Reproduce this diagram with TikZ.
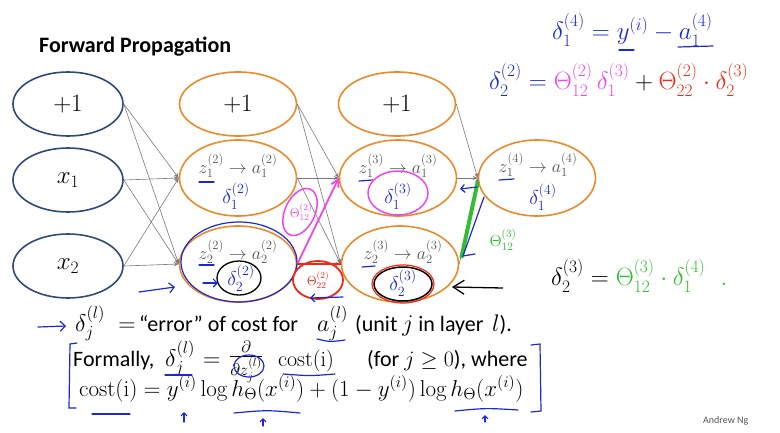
\RequirePackage{fix-cm}
\documentclass[tikz,border=0pt]{standalone}
\usepackage{amsmath,amssymb}
\usepackage{fontspec}
\setsansfont{Carlito}
\usetikzlibrary{shapes.geometric,arrows.meta,calc}
\definecolor{navy}{HTML}{2F4A78}
\definecolor{orng}{HTML}{ED8928}
\definecolor{hwblue}{HTML}{1E28D2}
\definecolor{mag}{HTML}{F046E6}
\definecolor{hwred}{HTML}{F02814}
\definecolor{grn}{HTML}{32BE32}
\definecolor{lgray}{HTML}{7A7A7A}
\definecolor{zgray}{HTML}{555555}
\newcommand\myfs[1]{\fontsize{#1}{#1}\selectfont}
\begin{document}
\begin{tikzpicture}[x=1pt,y=-1pt,
  inp/.style={ellipse, draw=navy, line width=1.6pt, minimum width=110pt, minimum height=64pt, inner sep=0pt, font={\myfs{25}}},
  hid/.style={ellipse, draw=orng, line width=1.6pt, minimum width=117pt, minimum height=76pt, inner sep=0pt, font={\myfs{25}}},
  bias/.style={hid, minimum height=64pt},
  conn/.style={draw=lgray, line width=0.6pt, -{Stealth[length=5pt,width=4pt]}},
  zlab/.style={text=zgray, font={\myfs{18}}, inner sep=0pt},
  hwb/.style={text=hwblue, font={\myfs{20}}, inner sep=0pt},
  hwl/.style={draw=hwblue, line width=1.2pt, line cap=round},
  txt/.style={font={\sffamily\myfs{22}}, inner sep=0pt, anchor=base west},
  mth/.style={font={\myfs{24}}, inner sep=0pt, anchor=base west}]
\useasboundingbox (0,0) rectangle (780,432);
% title
\node[font={\sffamily\bfseries\myfs{22}}, anchor=west, inner sep=0pt] (title) at (39,47) {Forward Propagation};
% nodes
\node[inp] (i0) at (68,104) {$+1$};
\node[inp] (i1) at (68,180) {$x_1$};
\node[inp] (i2) at (68,266) {$x_2$};
\node[bias] (h0) at (238,104) {$+1$};
\node[hid] (h1) at (238,178) {};
\node[hid] (h2) at (238,264) {};
\node[bias] (t0) at (397,104) {$+1$};
\node[hid] (t1) at (398,178) {};
\node[hid] (t2) at (400,264) {};
\node[hid] (o1) at (537,178) {};
% connectors
\foreach \s in {i0,i1,i2} \foreach \t in {h1,h2} \draw[conn] (\s.east) -- (\t.west);
\foreach \s in {h0,h1,h2} \foreach \t in {t1,t2} \draw[conn] (\s.east) -- (\t.west);
\foreach \s in {t0,t1,t2} \draw[conn] (\s.east) -- (o1.west);
% z labels
\node[zlab] (zh1) at (238,166) {$z^{(2)}_1\rightarrow a^{(2)}_1$};
\node[zlab] (zh2) at (238,252) {$z^{(2)}_2\rightarrow a^{(2)}_2$};
\node[zlab] (zt1) at (398,166) {$z^{(3)}_1\rightarrow a^{(3)}_1$};
\node[zlab] (zt2) at (403,252) {$z^{(3)}_2\rightarrow a^{(3)}_2$};
\node[zlab] (zo1) at (538,165) {$z^{(4)}_1\rightarrow a^{(4)}_1$};
% blue underlines under z
\draw[hwl] (199,182) -- (214,182);
\draw[hwl] (199,265) -- (214,265);
\draw[hwl] (359,181) -- (373,180);
\draw[hwl] (362,267) -- (375,266);
\draw[hwl] (499,180) -- (514,179);
% deltas
\node[hwb] (d21) at (236,196) {$\delta^{(2)}_1$};
\node[hwb] (d22) at (241,278) {$\delta^{(2)}_2$};
\node[hwb] (d31) at (398,196) {$\delta^{(3)}_1$};
\node[hwb] (d32) at (403,283) {$\delta^{(3)}_2$};
\node[hwb] (d41) at (543,197) {$\delta^{(4)}_1$};
% h2 annotations
\draw[hwl] (239,262) ellipse (58 and 40);
\draw[black, line width=1.3pt] (239,278) ellipse (22 and 17);
\draw[hwl, -{Straight Barb[length=4pt]}] (203,283) -- (218,283);
\draw[hwl, -{Straight Barb[length=5pt]}] (139,292) -- (175,287);
% magenta
\draw[mag, line width=1.8pt, -{Straight Barb[length=7pt,width=8pt]}] (h2.east) -- (t1.west);
\draw[mag, line width=1.5pt, rotate around={-25:(300,212)}] (300,212) ellipse (15 and 25);
\node[text=mag, font={\myfs{13}}, inner sep=0pt] (th212) at (301,212) {$\Theta^{(2)}_{12}$};
\draw[mag, line width=1.5pt] (398,193) ellipse (30 and 22);
% red
\draw[hwred, line width=2pt] (h2.east) -- (t2.west);
\draw[hwred, line width=1.8pt] (318,280) ellipse (25 and 19);
\node[text=hwred, font={\myfs{13}}, inner sep=0pt] (th222) at (318,280) {$\Theta^{(2)}_{22}$};
\draw[hwl, {Straight Barb[length=4pt]}-] (310,298) -- (343,297);
\draw[hwred, line width=1.2pt] (403,284) ellipse (31 and 19);
\draw[black, line width=1.5pt] (403,284) ellipse (29 and 17);
\draw[black, line width=1.3pt, {Straight Barb[length=11pt,width=14pt]}-] (452,287) -- (503,288);
% green
\draw[grn, line width=4pt] ($(o1.west)+(0,4)$) -- ($(t2.east)+(2,-6)$);
\draw[hwl] (484,197) -- (463,256) -- (475,254);
\draw[hwl, -{Straight Barb[length=4pt]}] (477,187) -- (460,189);
\node[text=grn, font={\myfs{16}}, inner sep=0pt] (th312) at (503,240) {$\Theta^{(3)}_{12}$};
% equations top right
\node[text=hwblue, font={\myfs{25}}, inner sep=0pt, anchor=west] (eq1) at (552,30) {$\delta^{(4)}_1 = y^{(i)} - a^{(4)}_1$};
\draw[hwl] (619,50) -- (634,50);
\draw[hwl] (678,47) -- (713,46);
\node[text=hwblue, font={\myfs{25}}, inner sep=0pt, anchor=west] (eq2) at (489,80) {$\delta^{(2)}_2 = {\color{mag}\Theta^{(2)}_{12}\,\delta^{(3)}_1}\mathbin{\color{black}+}{\color{hwred}\Theta^{(2)}_{22}\cdot\delta^{(3)}_2}$};
\node[text=black, font={\myfs{25}}, inner sep=0pt, anchor=west] (eq3) at (551,276) {$\delta^{(3)}_2 = {\color{grn}\Theta^{(3)}_{12}\cdot\delta^{(4)}_1\ \ .}$};
% bottom text line 1
\draw[hwl, -{Straight Barb[length=5pt]}] (38,327) -- (66,326);
\node[mth] (l1a) at (75,331) {$\delta^{(l)}_j\;=$};
\node[txt] (l1b) at (139,331) {“error” of cost for};
\node[mth] (l1c) at (317,331) {$a^{(l)}_j$};
\node[txt] (l1d) at (355,331) {(unit {\myfs{24}$j$} in layer \,{\myfs{24}$l$}).};
% line 2
\node[txt] (l2a) at (73,366) {Formally,};
\node[mth] (l2b) at (165,366) {$\delta^{(l)}_j$};
\node[mth] (l2c) at (203,366) {$=$};
\node[mth, font={\myfs{24}}] (l2d) at (229,362) {$\frac{\partial}{\partial z^{(l)}_j}$};
\node[mth, font={\myfs{22}}] (l2e) at (278,366) {$\mathrm{cost(i)}$};
\node[txt] (l2f) at (367,366) {(for $j\geq 0$), where};
% line 3
\node[mth, font={\myfs{23}}] (l3) at (79,396) {$\mathrm{cost(i)}=y^{(i)}\log h_\Theta(x^{(i)})+(1-y^{(i)})\log h_\Theta(x^{(i)})$};
% blue annotations bottom
\draw[hwl] (317,339) .. controls (330,342) .. (345,340);
\draw[hwl] (165,375) -- (192,375);
\draw[hwl] (249,366) ellipse (15 and 11);
\draw[hwl] (283,374) .. controls (310,376) .. (335,374);
\draw[hwl] (92,414) -- (130,414);
\draw[hwl, -{Straight Barb[length=3pt]}] (184,422) -- (184,412);
\draw[hwl] (234,413) .. controls (267,410) .. (300,413);
\draw[hwl, -{Straight Barb[length=3pt]}] (263,426) -- (263,418);
\draw[hwl] (455,411) .. controls (486,408) .. (518,410);
\draw[hwl, -{Straight Barb[length=3pt]}] (485,422) -- (485,415);
\draw[hwl] (77,343) -- (70,344) -- (69,408) -- (76,408);
\draw[hwl] (531,345) -- (540,344) -- (541,411) -- (531,412);
% signature
\node[font={\sffamily\myfs{10}}, text=zgray, anchor=west, inner sep=0pt] (sig) at (703,421) {Andrew Ng};
\end{tikzpicture}
\end{document}
